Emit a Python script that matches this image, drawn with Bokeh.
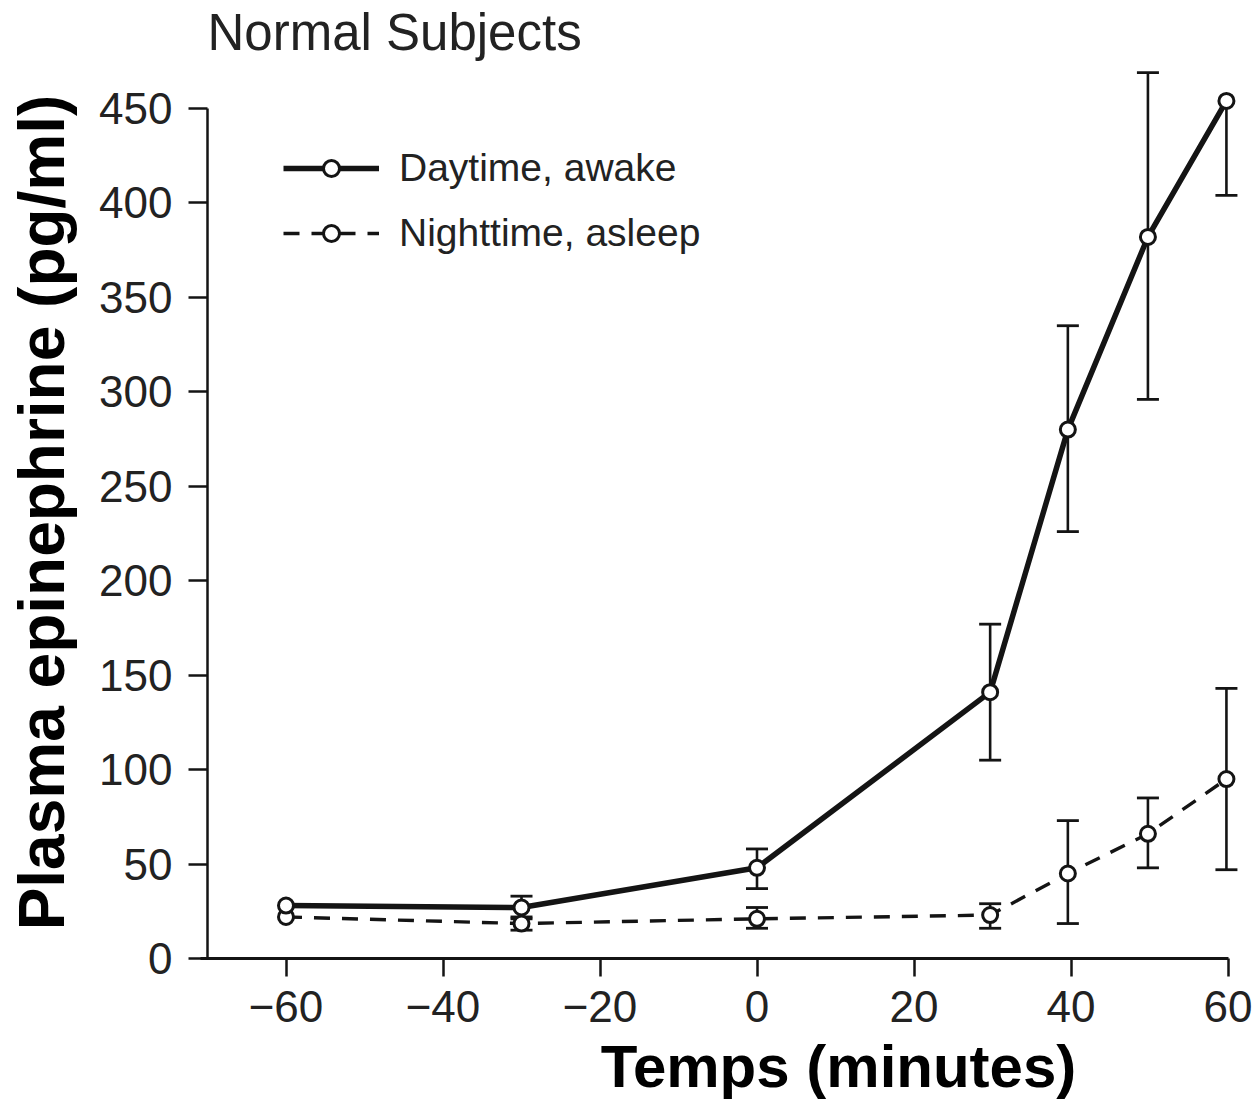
import math
from bokeh.plotting import figure
from bokeh.models import Range1d, FixedTicker, Label, Legend, LegendItem, ColumnDataSource
from bokeh.embed import file_html
from bokeh.resources import INLINE

# ---------------- data ----------------
time_min = [-60, -30, 0, 29.7, 39.6, 49.8, 59.8]

day_mean = [28, 27, 48, 141, 280, 382, 454]
day_upper = [None, 33, 58, 177, 335, 469, None]
day_lower = [None, 21, 37, 105, 226, 296, 404]

night_mean = [22, 18.5, 21, 23, 45, 66, 95]
night_upper = [None, 22, 27, 29, 73, 85, 143]
night_lower = [None, 15, 16, 16, 18.5, 48, 47]

x_ticks = [-60, -40, -20, 0, 20, 40, 60]
x_tick_labels = ["\u221260", "\u221240", "\u221220", "0", "20", "40", "60"]
y_ticks = [0, 50, 100, 150, 200, 250, 300, 350, 400, 450]
y_tick_labels = [str(v) for v in y_ticks]

series_labels = ["Daytime, awake", "Nighttime, asleep"]
title_text = "Normal Subjects"
x_title = "Temps (minutes)"
y_title = "Plasma epinephrine (pg/ml)"

# ---------------- layout geometry (pixels) ----------------
W, H = 1255, 1104
X_AXIS_START, X_AXIS_END = -70, 60
ORIGIN_PX_X, ORIGIN_PX_Y = 207, 958      # where x=-70, y=0 fall on the canvas
PX_PER_X = 157 / 20.0                     # pixels per minute
PX_PER_Y = 850 / 450.0                    # pixels per pg/ml

x0 = X_AXIS_START - ORIGIN_PX_X / PX_PER_X
x1 = X_AXIS_START + (W - ORIGIN_PX_X) / PX_PER_X
y0 = -(H - ORIGIN_PX_Y) / PX_PER_Y
y1 = ORIGIN_PX_Y / PX_PER_Y

def dx(px):  # canvas px -> data x
    return x0 + px / PX_PER_X

def dy(py):  # canvas py (from top) -> data y
    return y1 - py / PX_PER_Y

INK = "#141414"
p = figure(width=W, height=H, output_backend="svg", toolbar_location=None,
           x_range=Range1d(x0, x1), y_range=Range1d(y0, y1),
           min_border_left=0, min_border_right=0, min_border_top=0,
           min_border_bottom=0, title=None)
p.outline_line_color = None
p.xgrid.visible = False
p.ygrid.visible = False
p.background_fill_color = "white"
p.border_fill_color = "white"

for ax in (p.xaxis[0], p.yaxis[0]):
    ax.axis_line_color = INK
    ax.major_tick_line_width = 2.5
    ax.major_tick_line_color = INK
    ax.major_tick_in = 0
    ax.minor_tick_line_color = None
    ax.major_label_text_font = "Liberation Sans"
    ax.major_label_text_font_size = "44px"
    ax.major_label_text_color = "#222222"

xa = p.xaxis[0]
xa.fixed_location = 0
xa.ticker = FixedTicker(ticks=x_ticks)
xa.major_label_overrides = {t: l for t, l in zip(x_ticks, x_tick_labels)}
xa.major_tick_out = 18
xa.major_label_standoff = 14
xa.bounds = (X_AXIS_START - 0.9, X_AXIS_END)
xa.axis_line_width = 3

ya = p.yaxis[0]
ya.fixed_location = X_AXIS_START
ya.ticker = FixedTicker(ticks=y_ticks)
ya.major_label_overrides = {t: l for t, l in zip(y_ticks, y_tick_labels)}
ya.major_tick_out = 19
ya.major_label_standoff = 16
ya.bounds = (0, 450)
ya.axis_line_width = 2.5

# ---------------- error bars ----------------
def err_parts(xs, means, ups, los):
    sx, sy0, sy1, cx, cy = [], [], [], [], []
    for x, m, u, l in zip(xs, means, ups, los):
        if u is None and l is None:
            continue
        top = u if u is not None else m
        bot = l if l is not None else m
        sx.append(x); sy0.append(bot); sy1.append(top)
        if u is not None:
            cx.append(x); cy.append(u)
        if l is not None:
            cx.append(x); cy.append(l)
    return sx, sy0, sy1, cx, cy

for means, ups, los in ((day_mean, day_upper, day_lower),
                        (night_mean, night_upper, night_lower)):
    sx, sy0, sy1, cx, cy = err_parts(time_min, means, ups, los)
    p.segment(x0=sx, y0=sy0, x1=sx, y1=sy1, line_color=INK, line_width=2.6)
    p.scatter(x=cx, y=cy, marker="dash", size=22, line_color=INK, line_width=2.8)

# ---------------- lines and points ----------------
src_day = ColumnDataSource(dict(x=time_min, y=day_mean))
src_night = ColumnDataSource(dict(x=time_min, y=night_mean))

night_line = p.line("x", "y", source=src_night, line_color=INK, line_width=3.4,
                    line_dash="16 12")
day_line = p.line("x", "y", source=src_day, line_color=INK, line_width=5.5)
night_pts = p.scatter("x", "y", source=src_night, marker="circle", size=15,
                      fill_color="white", line_color=INK, line_width=3)
day_pts = p.scatter("x", "y", source=src_day, marker="circle", size=15,
                    fill_color="white", line_color=INK, line_width=3)

legend = Legend(items=[LegendItem(label=series_labels[0], renderers=[day_line, day_pts]),
                       LegendItem(label=series_labels[1], renderers=[night_line, night_pts])],
                location=(283, H - 255), padding=0, margin=0, spacing=21,
                glyph_width=96, glyph_height=40, label_height=40, label_standoff=20,
                label_text_font="Liberation Sans", label_text_font_size="39px",
                label_text_color="#222222", border_line_color=None,
                background_fill_alpha=0)
p.add_layout(legend)

# ---------------- texts ----------------
p.add_layout(Label(x=dx(207), y=dy(32), text=title_text, text_font="Liberation Sans",
                   text_font_size="51px", text_color="#222222",
                   text_align="left", text_baseline="alphabetic"))
p.add_layout(Label(x=dx(838), y=dy(1066), text=x_title, text_font="Liberation Sans",
                   text_font_style="bold", text_font_size="60px", text_color="black",
                   text_align="center", text_baseline="alphabetic"))
p.add_layout(Label(x=dx(41), y=dy(512), text=y_title, text_font="Liberation Sans",
                   text_font_style="bold", text_font_size="64px", text_color="black",
                   angle=math.pi / 2, text_align="center", text_baseline="alphabetic"))

open("out.html", "w").write(file_html(p, INLINE))
